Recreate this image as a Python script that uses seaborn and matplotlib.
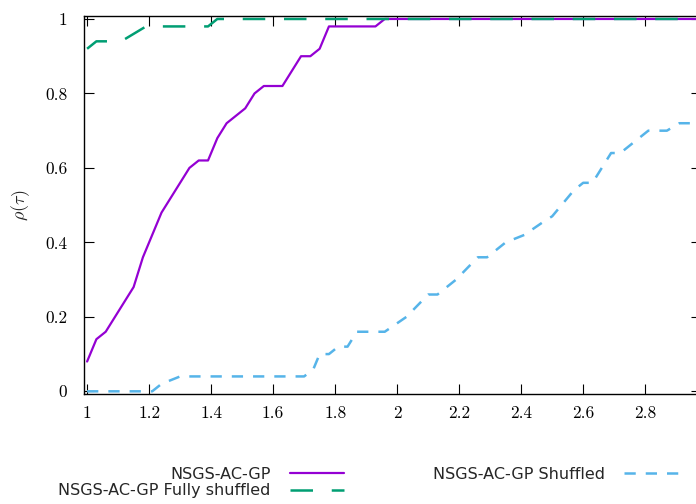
import matplotlib
matplotlib.use('Agg')
import matplotlib.pyplot as plt
import seaborn as sns

# performance profile values
tau_ac = [1.0, 1.03, 1.06, 1.15, 1.18, 1.24, 1.33, 1.36, 1.39, 1.42, 1.45,
          1.51, 1.54, 1.57, 1.63, 1.69, 1.72, 1.75, 1.78, 1.93, 1.96, 3.0]
rho_ac = [0.08, 0.14, 0.16, 0.28, 0.36, 0.48, 0.60, 0.62, 0.62, 0.68, 0.72,
          0.76, 0.80, 0.82, 0.82, 0.90, 0.90, 0.92, 0.98, 0.98, 1.0, 1.0]

tau_full = [1.0, 1.03, 1.11, 1.19, 1.39, 1.42, 3.0]
rho_full = [0.92, 0.94, 0.94, 0.98, 0.98, 1.0, 1.0]

tau_shuf = [1.0, 1.21, 1.24, 1.30, 1.70, 1.73, 1.75, 1.78, 1.81, 1.84, 1.87,
            1.96, 2.03, 2.10, 2.13, 2.19, 2.26, 2.29, 2.35, 2.41, 2.48, 2.50,
            2.57, 2.60, 2.63, 2.69, 2.72, 2.81, 2.87, 2.91, 3.0]
rho_shuf = [0.0, 0.0, 0.02, 0.04, 0.04, 0.06, 0.10, 0.10, 0.12, 0.12, 0.16,
            0.16, 0.20, 0.26, 0.26, 0.30, 0.36, 0.36, 0.40, 0.42, 0.46, 0.47,
            0.54, 0.56, 0.56, 0.64, 0.64, 0.70, 0.70, 0.72, 0.72]

labels = ['NSGS-AC-GP', 'NSGS-AC-GP Fully shuffled', 'NSGS-AC-GP Shuffled']
xticks = [1, 1.2, 1.4, 1.6, 1.8, 2, 2.2, 2.4, 2.6, 2.8]
xtick_labels = ['1', '1.2', '1.4', '1.6', '1.8', '2', '2.2', '2.4', '2.6', '2.8']
yticks = [0, 0.2, 0.4, 0.6, 0.8, 1]
ytick_labels = ['0', '0.2', '0.4', '0.6', '0.8', '1']

sns.set_theme(style='ticks')
plt.rcParams['font.family'] = ['cmr10', 'DejaVu Serif']
plt.rcParams['mathtext.fontset'] = 'cm'
plt.rcParams['axes.unicode_minus'] = False

fig = plt.figure(figsize=(6.96, 5.04), dpi=100)
ax = fig.add_axes([84 / 696, (504 - 394.3) / 504, 617 / 696, (394.3 - 16) / 504])

sns.lineplot(x=tau_ac, y=rho_ac, color='#9400D3', linewidth=1.6,
             estimator=None, sort=False, label=labels[0], ax=ax)
sns.lineplot(x=tau_full, y=rho_full, color='#009E73', linewidth=1.8,
             linestyle=(0, (9, 7.5)), estimator=None, sort=False,
             label=labels[1], ax=ax)
sns.lineplot(x=tau_shuf, y=rho_shuf, color='#56B4E9', linewidth=1.8,
             linestyle=(0, (4.5, 4)), estimator=None, sort=False,
             label=labels[2], ax=ax)

ax.set_xlim(0.99, 2.98)
ax.set_ylim(-0.008, 1.008)
ax.set_xticks(xticks, labels=xtick_labels)
ax.set_yticks(yticks, labels=ytick_labels)
ax.tick_params(direction='in', length=7, width=0.8, top=True, right=True,
               labelsize=12.5, colors='black')
ax.tick_params(axis='x', pad=8)
ax.tick_params(axis='y', pad=12)
for s in ax.spines.values():
    s.set_color('black')
    s.set_linewidth(1.0)

ax.set_xlabel('')
ax.set_ylabel(r'$\rho(\tau)$', fontsize=13)
ax.yaxis.set_label_coords(-0.084, 0.5)

ax.legend(loc='upper left', bbox_to_anchor=(58 / 696, 0.074),
          bbox_transform=fig.transFigure, ncol=2, markerfirst=False,
          frameon=False, borderpad=0, borderaxespad=0,
          prop={'family': 'DejaVu Sans', 'size': 11.5},
          handlelength=3.4, handletextpad=1.2, columnspacing=5.6,
          labelspacing=0.1)

fig.savefig('out.png', dpi=100)
